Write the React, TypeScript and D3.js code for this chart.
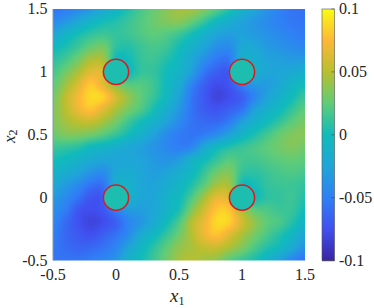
import React, { useEffect, useRef } from "react";
import * as d3 from "d3";

// grid nodes, every 0.1
const x1Grid = [-0.5, -0.4, -0.3, -0.2, -0.1, 0, 0.1, 0.2, 0.3, 0.4, 0.5, 0.6, 0.7, 0.8, 0.9, 1, 1.1, 1.2, 1.3, 1.4, 1.5];
const x2Grid = [1.5, 1.4, 1.3, 1.2, 1.1, 1, 0.9, 0.8, 0.7, 0.6, 0.5, 0.4, 0.3, 0.2, 0.1, 0, -0.1, -0.2, -0.3, -0.4, -0.5];

const field = [
  [-0.05, -0.045, -0.037, -0.027, -0.015, -0.001, 0.012, 0.024, 0.033, 0.043, 0.05, 0.05, 0.04, 0.027, 0.012, -0.004, -0.018, -0.032, -0.043, -0.05, -0.052],
  [-0.038, -0.028, -0.015, -0.002, 0.007, 0.012, 0.019, 0.027, 0.034, 0.04, 0.042, 0.032, 0.018, 0.002, -0.01, -0.02, -0.028, -0.036, -0.043, -0.048, -0.05],
  [-0.018, -0.003, 0.008, 0.016, 0.02, 0.017, 0.02, 0.026, 0.03, 0.027, 0.02, 0.008, -0.005, -0.018, -0.024, -0.021, -0.026, -0.032, -0.038, -0.043, -0.047],
  [0.002, 0.01, 0.02, 0.032, 0.036, 0.016, 0.013, 0.02, 0.024, 0.02, 0.008, -0.004, -0.018, -0.032, -0.035, -0.016, -0.017, -0.026, -0.031, -0.036, -0.04],
  [0.014, 0.022, 0.036, 0.052, 0.05, 0.006, 0.007, 0.018, 0.02, 0.012, 0.002, -0.015, -0.033, -0.047, -0.048, -0.008, -0.01, -0.02, -0.023, -0.026, -0.026],
  [0.022, 0.036, 0.052, 0.07, 0.065, 0.005, 0.005, 0.017, 0.017, 0.006, -0.004, -0.022, -0.048, -0.06, -0.06, 0.003, -0.005, -0.017, -0.019, -0.015, -0.008],
  [0.03, 0.048, 0.068, 0.087, 0.07, 0.04, 0.028, 0.027, 0.02, 0.004, -0.012, -0.04, -0.06, -0.07, -0.065, -0.04, -0.026, -0.025, -0.015, -0.002, 0.006],
  [0.036, 0.058, 0.078, 0.093, 0.09, 0.065, 0.045, 0.03, 0.018, 0.002, -0.02, -0.048, -0.064, -0.075, -0.07, -0.06, -0.04, -0.02, -0.006, 0.006, 0.02],
  [0.04, 0.057, 0.075, 0.085, 0.07, 0.052, 0.037, 0.025, 0.008, -0.008, -0.028, -0.05, -0.062, -0.066, -0.06, -0.05, -0.022, -0.007, 0.004, 0.018, 0.03],
  [0.04, 0.05, 0.058, 0.06, 0.05, 0.036, 0.02, 0.006, -0.004, -0.02, -0.036, -0.05, -0.055, -0.055, -0.045, -0.022, -0.006, 0.006, 0.018, 0.03, 0.038],
  [0.034, 0.04, 0.04, 0.036, 0.028, 0.018, 0.006, -0.006, -0.02, -0.035, -0.045, -0.05, -0.045, -0.035, -0.02, -0.002, 0.01, 0.022, 0.033, 0.04, 0.042],
  [0.02, 0.018, 0.014, 0.004, -0.001, -0.008, -0.015, -0.022, -0.03, -0.038, -0.044, -0.04, -0.015, 0.002, 0.012, 0.018, 0.024, 0.03, 0.036, 0.04, 0.036],
  [0.008, 0.003, -0.004, -0.012, -0.018, -0.018, -0.017, -0.02, -0.027, -0.03, -0.024, -0.006, 0.005, 0.018, 0.028, 0.022, 0.022, 0.026, 0.03, 0.032, 0.03],
  [-0.003, -0.009, -0.018, -0.03, -0.035, -0.016, -0.012, -0.018, -0.024, -0.02, -0.01, 0.001, 0.018, 0.035, 0.04, 0.018, 0.015, 0.02, 0.024, 0.026, 0.023],
  [-0.014, -0.025, -0.036, -0.05, -0.05, -0.008, -0.006, -0.017, -0.02, -0.012, -0.002, 0.012, 0.03, 0.05, 0.05, 0.007, 0.008, 0.017, 0.02, 0.02, 0.017],
  [-0.025, -0.036, -0.05, -0.065, -0.06, 0.003, -0.005, -0.017, -0.018, -0.006, 0.004, 0.025, 0.05, 0.072, 0.065, 0.005, 0.005, 0.015, 0.017, 0.02, 0.012],
  [-0.034, -0.045, -0.065, -0.07, -0.065, -0.04, -0.025, -0.024, -0.018, -0.004, 0.01, 0.04, 0.065, 0.087, 0.085, 0.05, 0.03, 0.025, 0.02, 0.018, 0.006],
  [-0.04, -0.055, -0.068, -0.075, -0.07, -0.06, -0.04, -0.028, -0.012, 0.005, 0.025, 0.055, 0.075, 0.093, 0.09, 0.065, 0.045, 0.03, 0.024, 0.012, -0.002],
  [-0.045, -0.056, -0.064, -0.068, -0.06, -0.05, -0.035, -0.012, 0.002, 0.018, 0.035, 0.055, 0.075, 0.085, 0.07, 0.052, 0.037, 0.024, 0.012, 0, -0.018],
  [-0.048, -0.054, -0.058, -0.056, -0.05, -0.04, -0.018, 0, 0.015, 0.03, 0.045, 0.052, 0.06, 0.062, 0.052, 0.04, 0.025, 0.012, 0.003, -0.014, -0.032],
  [-0.05, -0.05, -0.05, -0.045, -0.04, -0.03, -0.006, 0.006, 0.02, 0.035, 0.05, 0.055, 0.05, 0.045, 0.03, 0.02, 0.01, -0.002, -0.02, -0.04, -0.05],
];

// the table was read against contours that sit a little below zero on the colorbar
const fieldOffset = -0.006;

const circleX1 = [0, 1, 0, 1];
const circleX2 = [1, 1, 0, 0];
const circleValue = 0.004;
const circleRadius = 0.1;

const xTicks = [-0.5, 0, 0.5, 1, 1.5];
const yTicks = [-0.5, 0, 0.5, 1, 1.5];
const barTicks = [-0.1, -0.05, 0, 0.05, 0.1];

const colorDomain = [-0.1, -0.075, -0.05, -0.025, 0, 0.025, 0.05, 0.075, 0.1];
const colorRange = ["#3a24a2", "#4050f0", "#2f80f5", "#1fa5d8", "#10bbbb", "#60cc78", "#b8bf30", "#fdb838", "#f9fb15"];

const tickFont = "'Liberation Serif', serif";

const xScale = d3.scaleLinear().domain([-0.5, 1.5]).range([53, 305]);
const yScale = d3.scaleLinear().domain([-0.5, 1.5]).range([260.5, 9]);
const barScale = d3.scaleLinear().domain([-0.1, 0.1]).range([260.5, 9]);
const color = d3.scaleLinear<string>().domain(colorDomain).range(colorRange).clamp(true);

// grid position scales, data -> fractional node index
const colIndex = d3.scaleLinear().domain([-0.5, 1.5]).range([0, x1Grid.length - 1]);
const rowIndex = d3.scaleLinear().domain([1.5, -0.5]).range([0, x2Grid.length - 1]);

const catmull = (a: number, b: number, c: number, d: number, t: number) =>
  0.5 * (2 * b + (c - a) * t + (2 * a - 5 * b + 4 * c - d) * t * t + (3 * b - a - 3 * c + d) * t * t * t);

// smooth lookup between nodes, like shading interp
const sample = (col: number, row: number) => {
  const n = x1Grid.length - 1;
  const c0 = Math.min(Math.floor(col), n - 1);
  const r0 = Math.min(Math.floor(row), n - 1);
  const clampI = (i: number) => Math.max(0, Math.min(n, i));
  const rowVals = [-1, 0, 1, 2].map((dr) => {
    const r = field[clampI(r0 + dr)];
    return catmull(r[clampI(c0 - 1)], r[c0], r[clampI(c0 + 1)], r[clampI(c0 + 2)], col - c0);
  });
  return catmull(rowVals[0], rowVals[1], rowVals[2], rowVals[3], row - r0) + fieldOffset;
};

const App = () => {
  const imageRef = useRef<SVGImageElement>(null);

  useEffect(() => {
    const [left, right] = xScale.range();
    const [bottom, top] = yScale.range();
    const w = Math.round(right - left);
    const h = Math.round(bottom - top);
    const canvas = document.createElement("canvas");
    canvas.width = w;
    canvas.height = h;
    const ctx = canvas.getContext("2d");
    if (!ctx) return;
    const img = ctx.createImageData(w, h);
    for (let j = 0; j < h; j++) {
      for (let i = 0; i < w; i++) {
        const dx = xScale.invert(left + i + 0.5);
        const dy = yScale.invert(top + j + 0.5);
        const c = d3.rgb(color(sample(colIndex(dx), rowIndex(dy))));
        const k = (j * w + i) * 4;
        img.data[k] = c.r;
        img.data[k + 1] = c.g;
        img.data[k + 2] = c.b;
        img.data[k + 3] = 255;
      }
    }
    ctx.putImageData(img, 0, 0);
    d3.select(imageRef.current).attr("href", canvas.toDataURL());
  }, []);

  const barRows = d3.range(9, 260.5, 1);

  return (
    <svg width={374} height={308} style={{ position: "absolute", left: 0, top: 0, background: "#fff" }}>
      <image
        ref={imageRef}
        x={xScale.range()[0]}
        y={yScale.range()[1]}
        width={xScale.range()[1] - xScale.range()[0]}
        height={yScale.range()[0] - yScale.range()[1]}
        preserveAspectRatio="none"
      />
      <line x1={53} x2={53} y1={9} y2={260.5} stroke="#8a9aa8" strokeWidth={1} />

      {circleX1.map((cx, i) => (
        <circle
          key={i}
          cx={xScale(cx)}
          cy={yScale(circleX2[i])}
          r={xScale(circleRadius) - xScale(0)}
          fill={color(circleValue)}
          stroke="#e3161e"
          strokeWidth={1.5}
        />
      ))}

      {xTicks.map((t) => (
        <text key={t} x={xScale(t)} y={280} textAnchor="middle" fontFamily={tickFont} fontSize={16} fill="#262626">
          {t}
        </text>
      ))}
      {yTicks.map((t) => (
        <text key={t} x={47.5} y={yScale(t) + 5} textAnchor="end" fontFamily={tickFont} fontSize={16} fill="#262626">
          {t}
        </text>
      ))}

      <text x={170} y={302} fontFamily={tickFont} fontSize={19} fontStyle="italic" fill="#262626">
        x<tspan dy={3} fontSize={12} fontStyle="normal">1</tspan>
      </text>
      <text transform="translate(15,143) rotate(-90)" fontFamily={tickFont} fontSize={17} fontStyle="italic" fill="#262626">
        x<tspan dy={2} fontSize={12} fontStyle="normal">2</tspan>
      </text>

      {barRows.map((py) => (
        <rect key={py} x={322} y={py} width={12.5} height={1.2} fill={color(barScale.invert(py + 0.5))} />
      ))}
      <rect x={322} y={9} width={12.5} height={251.5} fill="none" stroke="#555" strokeWidth={0.6} />
      {barTicks.map((t) => (
        <g key={t}>
          <line x1={331.5} x2={334.5} y1={barScale(t)} y2={barScale(t)} stroke="#444" strokeWidth={0.6} />
          <text x={339} y={barScale(t) + 5} fontFamily={tickFont} fontSize={16} fill="#262626">
            {t}
          </text>
        </g>
      ))}
    </svg>
  );
};

export default App;
